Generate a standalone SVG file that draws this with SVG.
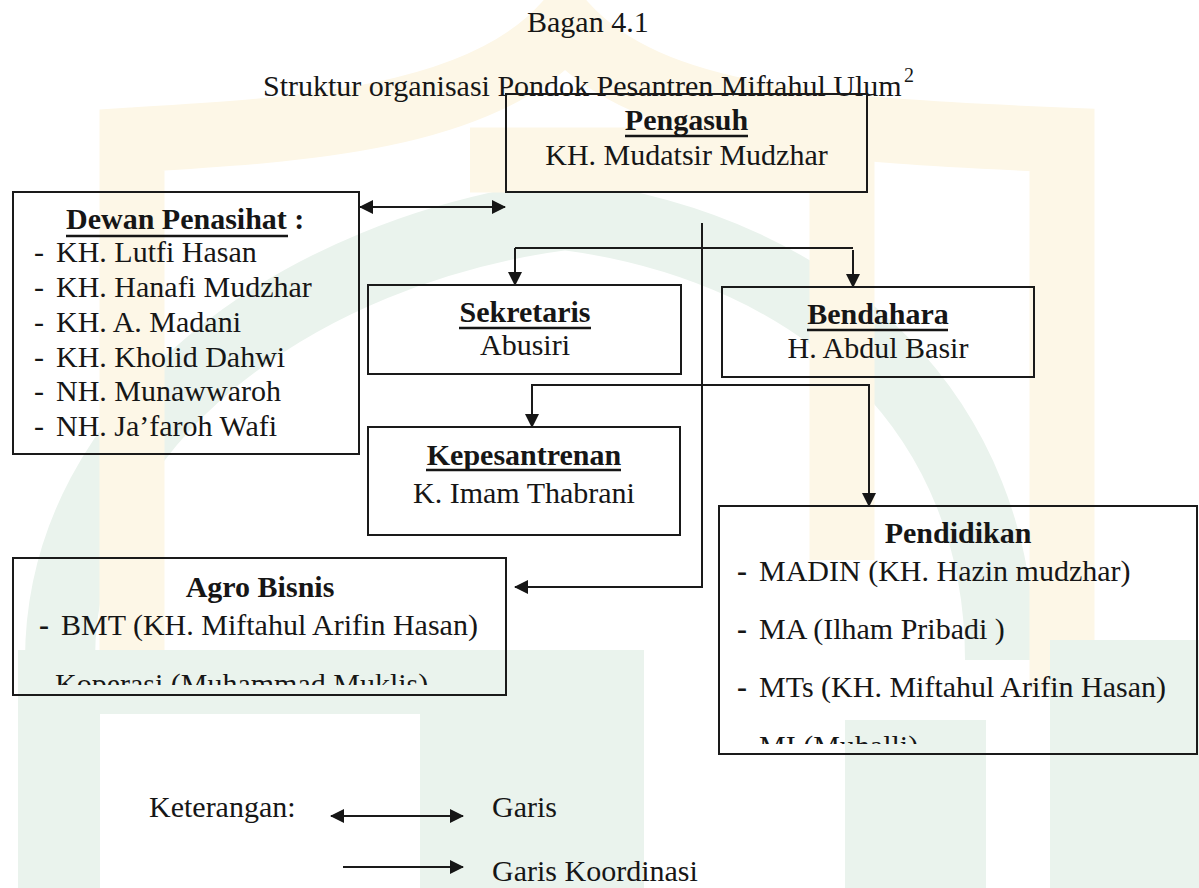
<svg xmlns="http://www.w3.org/2000/svg" width="1199" height="888" viewBox="0 0 1199 888">
  <style>
    .t { font-family: "Liberation Serif", "Times New Roman", serif; font-size: 30px; fill: #161616; }
    .b { font-weight: bold; }
    .m { text-anchor: middle; }
    .box { fill: none; stroke: #1a1a1a; stroke-width: 2; }
    .ln { fill: none; stroke: #1a1a1a; stroke-width: 2; }
    .ul { stroke: #161616; stroke-width: 2.5; }
    .wy { fill: none; stroke: #fdf7e7; }
    .wg { fill: #eaf3ed; }
  </style>
  <defs>
    <marker id="ah" viewBox="0 0 14 14" refX="13" refY="7" markerWidth="14" markerHeight="14" orient="auto-start-reverse" markerUnits="userSpaceOnUse">
      <path d="M0,0 L14,7 L0,14 z" fill="#161616"/>
    </marker>
    <clipPath id="clipAgro"><rect x="13" y="558" width="493" height="127"/></clipPath>
    <clipPath id="clipPend"><rect x="719" y="506" width="478" height="238"/></clipPath>
  </defs>

  <rect width="1199" height="888" fill="#ffffff"/>

  <!-- faint watermark -->
  <g id="watermark">
    <path d="M60,660 C60,420 300,250 565,215 C830,250 1000,420 1000,660" fill="none" stroke="#eaf3ed" stroke-width="70"/>
    <path d="M132,690 V140 C300,130 480,120 565,25 C650,120 830,130 1062,140 V690" class="wy" stroke-width="65"/>
    <path d="M470,160 H842 V560" class="wy" stroke-width="65"/>
    <path class="wg" d="M18,650 H474 V888 H420 V714 H100 V888 H18 Z"/>
    <rect class="wg" x="474" y="650" width="170" height="238"/>
    <rect class="wg" x="845" y="720" width="141" height="168"/>
    <rect class="wg" x="1050" y="640" width="149" height="248"/>
  </g>

  <g id="title">
    <text class="t" x="527" y="32">Bagan 4.1</text>
    <text class="t" x="263" y="96">Struktur organisasi Pondok Pesantren Miftahul Ulum</text>
    <text class="t" x="904" y="82" style="font-size:20px">2</text>
  </g>

  <g id="connectors">
    <line class="ln" x1="360" y1="207" x2="505" y2="207" marker-start="url(#ah)" marker-end="url(#ah)"/>
    <polyline class="ln" points="702,223 702,587 515,587" marker-end="url(#ah)"/>
    <line class="ln" x1="515" y1="248" x2="853" y2="248"/>
    <line class="ln" x1="515" y1="248" x2="515" y2="285" marker-end="url(#ah)"/>
    <line class="ln" x1="853" y1="250" x2="853" y2="287" marker-end="url(#ah)"/>
    <polyline class="ln" points="532,427 532,385 869,385 869,506" marker-start="url(#ah)" marker-end="url(#ah)"/>
  </g>

  <g id="pengasuh">
    <rect class="box" x="506" y="94" width="361" height="98"/>
    <text class="t b m" x="686.5" y="130">Pengasuh</text>
    <line class="ul" x1="625" y1="136" x2="748" y2="136"/>
    <text class="t m" x="686.5" y="165">KH. Mudatsir Mudzhar</text>
  </g>

  <g id="dewan">
    <rect class="box" x="13" y="192" width="346" height="262"/>
    <text class="t b" x="66" y="229">Dewan Penasihat :</text>
    <line class="ul" x1="66" y1="236" x2="288" y2="236"/>
    <text class="t" x="34" y="262">-</text><text class="t" x="56" y="262">KH. Lutfi Hasan</text>
    <text class="t" x="34" y="297">-</text><text class="t" x="56" y="297">KH. Hanafi Mudzhar</text>
    <text class="t" x="34" y="331.5">-</text><text class="t" x="56" y="331.5">KH. A. Madani</text>
    <text class="t" x="34" y="366.5">-</text><text class="t" x="56" y="366.5">KH. Kholid Dahwi</text>
    <text class="t" x="34" y="401">-</text><text class="t" x="56" y="401">NH. Munawwaroh</text>
    <text class="t" x="34" y="436">-</text><text class="t" x="56" y="436">NH. Ja’faroh Wafi</text>
  </g>

  <g id="sekretaris">
    <rect class="box" x="368" y="285" width="313" height="89"/>
    <text class="t b m" x="525" y="322">Sekretaris</text>
    <line class="ul" x1="459" y1="328" x2="591" y2="328"/>
    <text class="t m" x="525" y="355">Abusiri</text>
  </g>

  <g id="bendahara">
    <rect class="box" x="722" y="287" width="312" height="90"/>
    <text class="t b m" x="878" y="324">Bendahara</text>
    <line class="ul" x1="807" y1="330" x2="948" y2="330"/>
    <text class="t m" x="878" y="358">H. Abdul Basir</text>
  </g>

  <g id="kepesantrenan">
    <rect class="box" x="368" y="427" width="312" height="108"/>
    <text class="t b m" x="524" y="464.5">Kepesantrenan</text>
    <line class="ul" x1="426" y1="470" x2="621" y2="470"/>
    <text class="t m" x="524" y="503">K. Imam Thabrani</text>
  </g>

  <g id="agro">
    <rect class="box" x="13" y="558" width="493" height="137"/>
    <text class="t b m" x="260" y="596.5">Agro Bisnis</text>
    <g clip-path="url(#clipAgro)">
      <text class="t b" x="39" y="634.5">-</text><text class="t" x="61" y="634.5">BMT (KH. Miftahul Arifin Hasan)</text>
      <text class="t b" x="33" y="694">-</text><text class="t" x="55" y="694">Koperasi (Muhammad Muklis)</text>
    </g>
  </g>

  <g id="pendidikan">
    <rect class="box" x="719" y="506" width="478" height="248"/>
    <text class="t b m" x="958" y="543">Pendidikan</text>
    <g clip-path="url(#clipPend)">
      <text class="t b" x="737" y="581">-</text><text class="t" x="759" y="581">MADIN (KH. Hazin mudzhar)</text>
      <text class="t b" x="737" y="639">-</text><text class="t" x="759" y="639">MA (Ilham Pribadi )</text>
      <text class="t b" x="737" y="697">-</text><text class="t" x="759" y="697">MTs (KH. Miftahul Arifin Hasan)</text>
      <text class="t b" x="737" y="756">-</text><text class="t" x="759" y="756">MI (Muhalli)</text>
    </g>
  </g>

  <g id="legend">
    <text class="t" x="149" y="817">Keterangan:</text>
    <line class="ln" x1="331" y1="816" x2="463" y2="816" marker-start="url(#ah)" marker-end="url(#ah)"/>
    <text class="t" x="492" y="817">Garis</text>
    <line class="ln" x1="343" y1="867" x2="463" y2="867" marker-end="url(#ah)"/>
    <text class="t" x="492" y="881">Garis Koordinasi</text>
  </g>
</svg>
